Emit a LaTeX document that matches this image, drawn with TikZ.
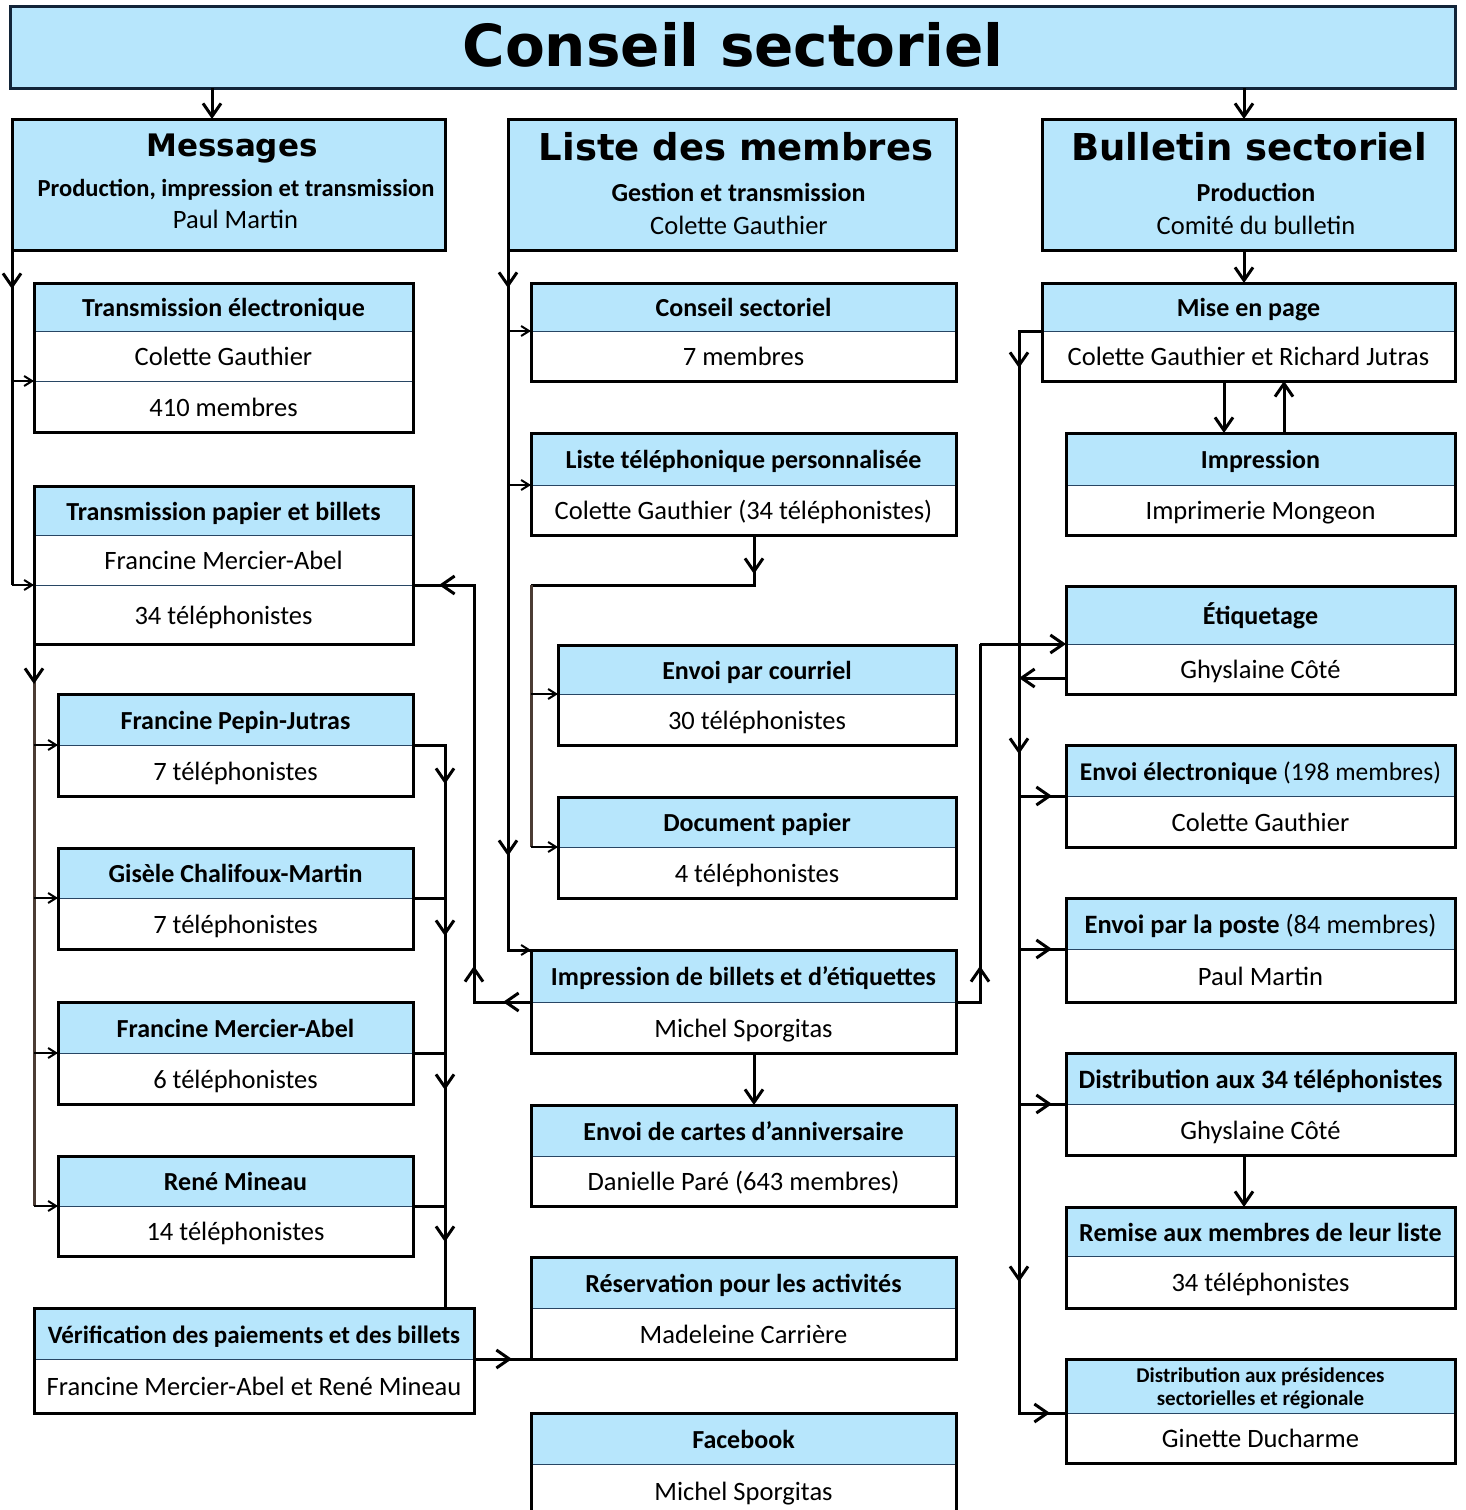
\documentclass[tikz,border=0pt]{standalone}
\usepackage{fontspec}
\setmainfont{Carlito}
\newfontfamily\dvfont{DejaVu Sans}
\usetikzlibrary{arrows.meta}
\definecolor{hblue}{RGB}{183,230,252}
\definecolor{navy}{RGB}{18,36,56}
\definecolor{divnavy}{RGB}{40,70,100}
\definecolor{brownln}{RGB}{75,60,52}
\newcommand\hfont{\fontsize{26}{30}\selectfont\bfseries}
\newcommand\bfontx{\fontsize{26.5}{30}\selectfont}
\tikzset{
  hdr/.style={fill=hblue, inner sep=0pt, outer sep=0pt, anchor=north west,
    font=\hfont, text height=22pt, text depth=2.6pt},
  bdy/.style={fill=white, inner sep=0pt, outer sep=0pt, anchor=north west,
    font=\bfontx, text height=22pt, text depth=2.6pt},
  divline/.style={draw=divnavy, line width=1pt},
  frame/.style={draw=black, line width=3pt},
  topbox/.style={fill=hblue, draw=black, line width=3pt, anchor=north west,
    inner sep=0pt, outer sep=0pt},
  titlebox/.style={fill=hblue, draw=navy, line width=3pt, anchor=north west,
    inner sep=0pt, outer sep=0pt},
  conn/.style={draw=black, line width=3pt},
  thinconn/.style={draw=black, line width=2pt},
  brownconn/.style={draw=brownln, line width=3pt},
  bigtip/.style={-{Straight Barb[length=13pt,width=18pt]}},
  smalltip/.style={-{Straight Barb[length=8pt,width=10pt]}},
}
% name, x1, x2, ytop, ydiv, ybot, header, body
\newcommand\mybox[8]{%
  \pgfmathsetmacro\bw{#3-#2}%
  \pgfmathsetmacro\hh{#5-#4}%
  \pgfmathsetmacro\bh{#6-#5}%
  \node[hdr, minimum width=\bw pt, minimum height=\hh pt] (#1-h) at (#2,#4) {#7};
  \node[bdy, minimum width=\bw pt, minimum height=\bh pt] (#1-b) at (#2,#5) {#8};
  \draw[divline] (#1-h.south west) -- (#1-h.south east);
  \draw[frame] (#1-h.north west) rectangle (#1-b.south east);
}
% name, ytop, ydiv1, ydiv2, ybot, header, body1, body2  (x from 34 to 413)
\newcommand\threebox[8]{%
  \pgfmathsetmacro\hh{#3-#2}%
  \pgfmathsetmacro\bh{#4-#3}%
  \pgfmathsetmacro\ch{#5-#4}%
  \node[hdr, minimum width=379pt, minimum height=\hh pt] (#1-h) at (34,#2) {#6};
  \node[bdy, minimum width=379pt, minimum height=\bh pt] (#1-b) at (34,#3) {#7};
  \node[bdy, minimum width=379pt, minimum height=\ch pt] (#1-c) at (34,#4) {#8};
  \draw[divline] (#1-h.south west) -- (#1-h.south east);
  \draw[divline] (#1-b.south west) -- (#1-b.south east);
  \draw[frame] (#1-h.north west) rectangle (#1-c.south east);
}
\begin{document}
\begin{tikzpicture}[x=1pt,y=-1pt]
\useasboundingbox (0,0) rectangle (1465,1510);

% ---------- title ----------
\node[titlebox, minimum width=1445pt, minimum height=82pt] (title) at (10,6) {};
\node[anchor=base, font=\dvfont\bfseries\fontsize{58}{60}\selectfont] (title-t) at (733,66) {Conseil sectoriel};

% ---------- top boxes ----------
\node[topbox, minimum width=433pt, minimum height=131pt] (msg) at (12,119) {};
\node[anchor=base, font=\dvfont\bfseries\fontsize{31}{34}\selectfont] (msg-t) at (232,156) {Messages};
\node[anchor=base, font=\fontsize{24.5}{28}\selectfont\bfseries] (msg-s) at (236,196) {Production, impression et transmission};
\node[anchor=base, font=\bfontx] (msg-p) at (235.5,228) {Paul Martin};

\node[topbox, minimum width=448pt, minimum height=131pt] (lm) at (508,119) {};
\node[anchor=base, font=\dvfont\bfseries\fontsize{37}{40}\selectfont] (lm-t) at (736,160) {Liste des membres};
\node[anchor=base, font=\hfont] (lm-s) at (738.5,201) {Gestion et transmission};
\node[anchor=base, font=\bfontx] (lm-p) at (739,234) {Colette Gauthier};

\node[topbox, minimum width=413pt, minimum height=131pt] (bs) at (1042,119) {};
\node[anchor=base, font=\dvfont\bfseries\fontsize{37}{40}\selectfont] (bs-t) at (1249,160) {Bulletin sectoriel};
\node[anchor=base, font=\hfont] (bs-s) at (1256,201) {Production};
\node[anchor=base, font=\bfontx] (bs-p) at (1256,234) {Comité du bulletin};

% ---------- left column ----------
\threebox{te}{283}{331}{381}{432}{Transmission électronique}{Colette Gauthier}{410 membres}
\threebox{tp}{486}{535}{585}{644}{Transmission papier et billets}{Francine Mercier-Abel}{34 téléphonistes}
\mybox{fpj}{58}{413}{694}{745}{796}{Francine Pepin-Jutras}{7 téléphonistes}
\mybox{gcm}{58}{413}{848}{898}{949}{Gisèle Chalifoux-Martin}{7 téléphonistes}
\mybox{fma}{58}{413}{1002}{1053}{1104}{Francine Mercier-Abel}{6 téléphonistes}
\mybox{rm}{58}{413}{1156}{1206}{1256}{René Mineau}{14 téléphonistes}
\mybox{ver}{34}{474}{1308}{1359}{1413}{\fontsize{25}{30}\selectfont Vérification des paiements et des billets}{Francine Mercier-Abel et René Mineau}

% ---------- middle column ----------
\mybox{cs}{531}{956}{283}{331}{381}{Conseil sectoriel}{7 membres}
\mybox{ltp}{531}{956}{433}{485}{535}{Liste téléphonique personnalisée}{Colette Gauthier (34 téléphonistes)}
\mybox{epc}{558}{956}{645}{694}{745}{Envoi par courriel}{30 téléphonistes}
\mybox{dp}{558}{956}{797}{847}{898}{Document papier}{4 téléphonistes}
\mybox{ib}{531}{956}{950}{1002}{1053}{Impression de billets et d’étiquettes}{Michel Sporgitas}
\mybox{eca}{531}{956}{1105}{1156}{1206}{Envoi de cartes d’anniversaire}{Danielle Paré (643 membres)}
\mybox{res}{531}{956}{1257}{1308}{1359}{Réservation pour les activités}{Madeleine Carrière}
\mybox{fb}{531}{956}{1413}{1464}{1518}{Facebook}{Michel Sporgitas}

% ---------- right column ----------
\mybox{mep}{1042}{1455}{283}{331}{381}{Mise en page}{Colette Gauthier et Richard Jutras}
\mybox{imp}{1066}{1455}{433}{485}{535}{Impression}{Imprimerie Mongeon}
\mybox{etq}{1066}{1455}{586}{644}{694}{Étiquetage}{Ghyslaine Côté}
\mybox{eel}{1066}{1455}{745}{796}{847}{\fontsize{25.5}{30}\selectfont Envoi électronique {\mdseries(198 membres)}}{Colette Gauthier}
\mybox{epp}{1066}{1455}{898}{949}{1002}{\fontsize{26.5}{30}\selectfont Envoi par la poste {\mdseries(84 membres)}}{Paul Martin}
\mybox{d34}{1066}{1455}{1053}{1104}{1155}{\fontsize{26.5}{30}\selectfont Distribution aux 34 téléphonistes}{Ghyslaine Côté}
\mybox{rml}{1066}{1455}{1207}{1256}{1308}{Remise aux membres de leur liste}{34 téléphonistes}
\mybox{dpr}{1066}{1455}{1359}{1413}{1463}{}{Ginette Ducharme}
\node[align=center, font=\fontsize{21}{23}\selectfont\bfseries, yshift=-2pt] (dpr-t) at (dpr-h.center) {Distribution aux présidences\\sectorielles et régionale};

% ---------- guide coordinates ----------
\coordinate (xm) at (212,0);
\coordinate (xb) at (1244,0);
\coordinate (xl) at (12,0);
\coordinate (xt) at (34,0);
\coordinate (xr) at (445,0);
\coordinate (xv) at (474,0);
\coordinate (xlm) at (508,0);
\coordinate (xlt) at (531,0);
\coordinate (xc) at (754,0);
\coordinate (xe) at (980,0);
\coordinate (xs) at (1019,0);
\coordinate (xd) at (1224,0);
\coordinate (xu) at (1284,0);

% ---------- connectors ----------
% title -> messages / bulletin
\draw[conn,bigtip] (title.south -| xm) -- (msg.north -| xm);
\draw[conn,bigtip] (title.south -| xb) -- (bs.north -| xb);

% messages trunk
\coordinate (j1) at (12,585);
\draw[conn] (msg.south west) -- (j1);
\draw[conn,bigtip] (msg.south west) -- (12,289);
\draw[thinconn,smalltip] (te-c.north west -| xl) -- (te-c.north west);
\draw[thinconn,smalltip] (j1) -- (tp-c.north west);

% transmission papier trunk
\coordinate (j2) at (34,1206);
\draw[brownconn] (tp-c.south west) -- (j2);
\draw[conn,bigtip] (tp-c.south west) -- (34,684);
\draw[thinconn,smalltip] (fpj-b.north west -| xt) -- (fpj-b.north west);
\draw[thinconn,smalltip] (gcm-b.north west -| xt) -- (gcm-b.north west);
\draw[thinconn,smalltip] (fma-b.north west -| xt) -- (fma-b.north west);
\draw[thinconn,smalltip] (j2) -- (rm-b.north west);

% right collector to verification
\draw[conn] (fpj-b.north east) -- (fpj-b.north east -| xr) -- (ver-h.north -| xr);
\draw[conn] (gcm-b.north east) -- (gcm-b.north east -| xr);
\draw[conn] (fma-b.north east) -- (fma-b.north east -| xr);
\draw[conn] (rm-b.north east) -- (rm-b.north east -| xr);
\draw[conn,bigtip] (fpj-b.north east -| xr) -- (445,784);
\draw[conn,bigtip] (gcm-b.north east -| xr) -- (445,936);
\draw[conn,bigtip] (fma-b.north east -| xr) -- (445,1090);
\draw[conn,bigtip] (rm-b.north east -| xr) -- (445,1242);

% verification -> reservation
\draw[conn] (ver-h.south east) -- (res-b.south west);
\draw[conn,bigtip] (ver-h.south east) -- (512,1359);

% impression billets -> transmission papier
\draw[conn] (ib-b.north west) -- (ib-b.north west -| xv) -- (tp-c.north east -| xv) -- (tp-c.north east);
\draw[conn,bigtip] (ib-b.north west) -- (503,1002);
\draw[conn,bigtip] (ib-b.north west -| xv) -- (474,966);
\draw[conn,bigtip] (tp-c.north east -| xv) -- (439,585);

% liste des membres trunk
\draw[conn] (lm.south west) -- (ib-h.north west -| xlm) -- (ib-h.north west);
\draw[conn,bigtip] (lm.south west) -- (508,288);
\draw[conn,bigtip] (508,800) -- (508,856);
\draw[thinconn,smalltip] (cs-b.north west -| xlm) -- (cs-b.north west);
\draw[thinconn,smalltip] (ltp-b.north west -| xlm) -- (ltp-b.north west);
\draw[thinconn,smalltip] (ib-h.north west -| xlm) -- (ib-h.north west);

% liste telephonique -> courriel / papier
\coordinate (j3) at (754,585);
\coordinate (j4) at (531,585);
\draw[conn,bigtip] (ltp-b.south -| xc) -- (754,574);
\draw[conn] (754,570) -- (j3) -- (j4);
\draw[brownconn] (j4) -- (dp-b.north west -| xlt);
\draw[thinconn,smalltip] (epc-b.north west -| xlt) -- (epc-b.north west);
\draw[thinconn,smalltip] (dp-b.north west -| xlt) -- (dp-b.north west);

% impression billets -> cartes
\draw[conn,bigtip] (ib-b.south -| xc) -- (eca-h.north -| xc);

% impression billets -> etiquetage
\draw[conn] (ib-b.north east) -- (ib-b.north east -| xe) -- (etq-b.north west -| xe);
\draw[conn,bigtip] (ib-b.north east -| xe) -- (980,966);
\draw[conn,bigtip] (etq-b.north west -| xe) -- (etq-b.north west);

% etiquetage -> trunk
\coordinate (etqo) at (1066,678);
\draw[conn,bigtip] (etqo) -- (etqo -| xs);

% mise en page trunk
\draw[conn] (mep-b.north west) -- (mep-b.north west -| xs) -- (dpr-b.north west -| xs) -- (dpr-b.north west);
\draw[conn,bigtip] (mep-b.north west -| xs) -- (1019,368);
\draw[conn,bigtip] (1019,700) -- (1019,754);
\draw[conn,bigtip] (1019,1230) -- (1019,1282);
\draw[conn] (eel-b.north west -| xs) -- (eel-b.north west);
\draw[conn] (epp-b.north west -| xs) -- (epp-b.north west);
\draw[conn] (d34-b.north west -| xs) -- (d34-b.north west);
\draw[conn,bigtip] (eel-b.north west -| xs) -- (1052,796);
\draw[conn,bigtip] (epp-b.north west -| xs) -- (1052,949);
\draw[conn,bigtip] (d34-b.north west -| xs) -- (1052,1104);
\draw[conn,bigtip] (dpr-b.north west -| xs) -- (1050,1413);

% mise en page <-> impression
\draw[conn,bigtip] (mep-b.south -| xd) -- (imp-h.north -| xd);
\draw[conn,bigtip] (imp-h.north -| xu) -- (mep-b.south -| xu);

% bulletin -> mise en page ; distribution -> remise
\draw[conn,bigtip] (bs.south -| xb) -- (mep-h.north -| xb);
\draw[conn,bigtip] (d34-b.south -| xb) -- (rml-h.north -| xb);

\end{tikzpicture}
\end{document}
